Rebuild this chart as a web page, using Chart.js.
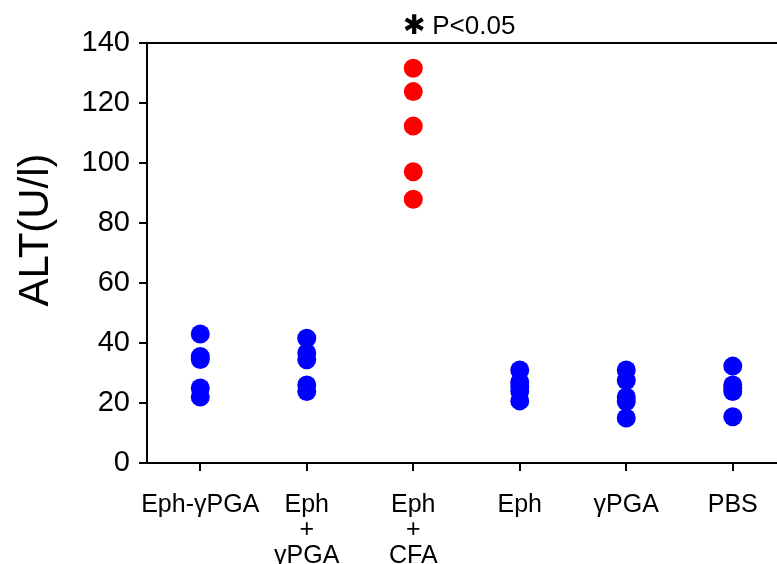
<!DOCTYPE html>
<html>
<head>
<meta charset="utf-8">
<script src="https://cdn.jsdelivr.net/npm/chart.js@4"></script>
<style>
  html, body { margin: 0; padding: 0; background: #fff; overflow: hidden; }
  #wrap { width: 777px; height: 564px; overflow: hidden; }
</style>
</head>
<body>
<div id="wrap"><canvas id="c" width="787" height="564"></canvas></div>
<script>
// ---- data ----
const categories = [['Eph-γPGA'], ['Eph', '+', 'γPGA'], ['Eph', '+', 'CFA'], ['Eph'], ['γPGA'], ['PBS']];
const ephGammaPGA = [43, 35.5, 34.5, 25, 22];
const ephPlusGammaPGA = [41.6, 36.7, 34.4, 26, 23.8];
const ephPlusCFA = [131.6, 123.8, 112.3, 97.1, 87.9];
const ephOnly = [31, 27, 25.5, 24, 20.7];
const gammaPGA = [31, 27.5, 22, 20.5, 15];
const pbs = [32.3, 26, 25, 23.8, 15.4];
const groups = [ephGammaPGA, ephPlusGammaPGA, ephPlusCFA, ephOnly, gammaPGA, pbs];
const groupColors = ['#0000ff', '#0000ff', '#ff0000', '#0000ff', '#0000ff', '#0000ff'];
const yTickValues = [0, 20, 40, 60, 80, 100, 120, 140];
const yTitle = 'ALT(U/l)';
const annotationText = 'P<0.05';

const datasets = groups.map((vals, i) => ({
  data: vals.map(v => ({ x: i, y: v })),
  backgroundColor: groupColors[i],
  borderWidth: 0,
  pointRadius: 9.5,
  pointHoverRadius: 9.5
}));

const overlay = {
  id: 'overlay',
  afterDraw(chart) {
    const ctx = chart.ctx;
    const a = chart.chartArea;
    const xs = chart.scales.x;
    ctx.save();
    // top frame line
    ctx.strokeStyle = '#000';
    ctx.lineWidth = 2;
    ctx.beginPath();
    ctx.moveTo(a.left, a.top);
    ctx.lineTo(chart.width, a.top);
    ctx.stroke();
    // y title
    ctx.fillStyle = '#000';
    ctx.font = '42px "Liberation Sans", Arial, sans-serif';
    ctx.textAlign = 'center';
    ctx.textBaseline = 'middle';
    ctx.translate(36, 230);
    ctx.rotate(-Math.PI / 2);
    ctx.fillText(yTitle, 0, 0);
    ctx.restore();
    // annotation over the CFA group
    ctx.save();
    const cx = xs.getPixelForValue(2);
    ctx.fillStyle = '#000';
    ctx.textBaseline = 'middle';
    ctx.textAlign = 'center';
    ctx.font = 'bold 27px "DejaVu Sans", sans-serif';
    ctx.fillText('✱', cx + 1, 27);
    ctx.textAlign = 'left';
    ctx.font = '26px "Liberation Sans", Arial, sans-serif';
    ctx.fillText(annotationText, cx + 19, 27);
    ctx.restore();
  }
};

new Chart(document.getElementById('c'), {
  type: 'scatter',
  data: { datasets },
  options: {
    responsive: false,
    animation: false,
    devicePixelRatio: 1,
    layout: { padding: { top: 43, right: 0, bottom: 0, left: 0 } },
    plugins: { legend: { display: false }, tooltip: { enabled: false } },
    scales: {
      x: {
        type: 'linear',
        min: -0.5,
        max: 5.42,
        afterBuildTicks: s => { s.ticks = categories.map((c, i) => ({ value: i })); },
        afterFit: s => { s.height = 101; s.paddingLeft = 0; s.paddingRight = 0; },
        grid: { display: true, drawOnChartArea: false, drawTicks: true, tickLength: 8, color: '#000', lineWidth: 2 },
        border: { display: true, color: '#000', width: 2 },
        ticks: {
          color: '#000',
          padding: 21,
          maxRotation: 0,
          autoSkip: false,
          font: { family: '"Liberation Sans", Arial, sans-serif', size: 25, lineHeight: 1.02 },
          callback: v => categories[v]
        }
      },
      y: {
        min: 0,
        max: 140,
        afterBuildTicks: s => { s.ticks = yTickValues.map(v => ({ value: v })); },
        afterFit: s => { s.width = 147; s.paddingTop = 0; s.paddingBottom = 0; },
        grid: { display: true, drawOnChartArea: false, drawTicks: true, tickLength: 8, color: '#000', lineWidth: 2 },
        border: { display: true, color: '#000', width: 2 },
        ticks: {
          color: '#000',
          padding: 9,
          font: { family: '"Liberation Sans", Arial, sans-serif', size: 29 }
        }
      }
    }
  },
  plugins: [overlay]
});
</script>
</body>
</html>
